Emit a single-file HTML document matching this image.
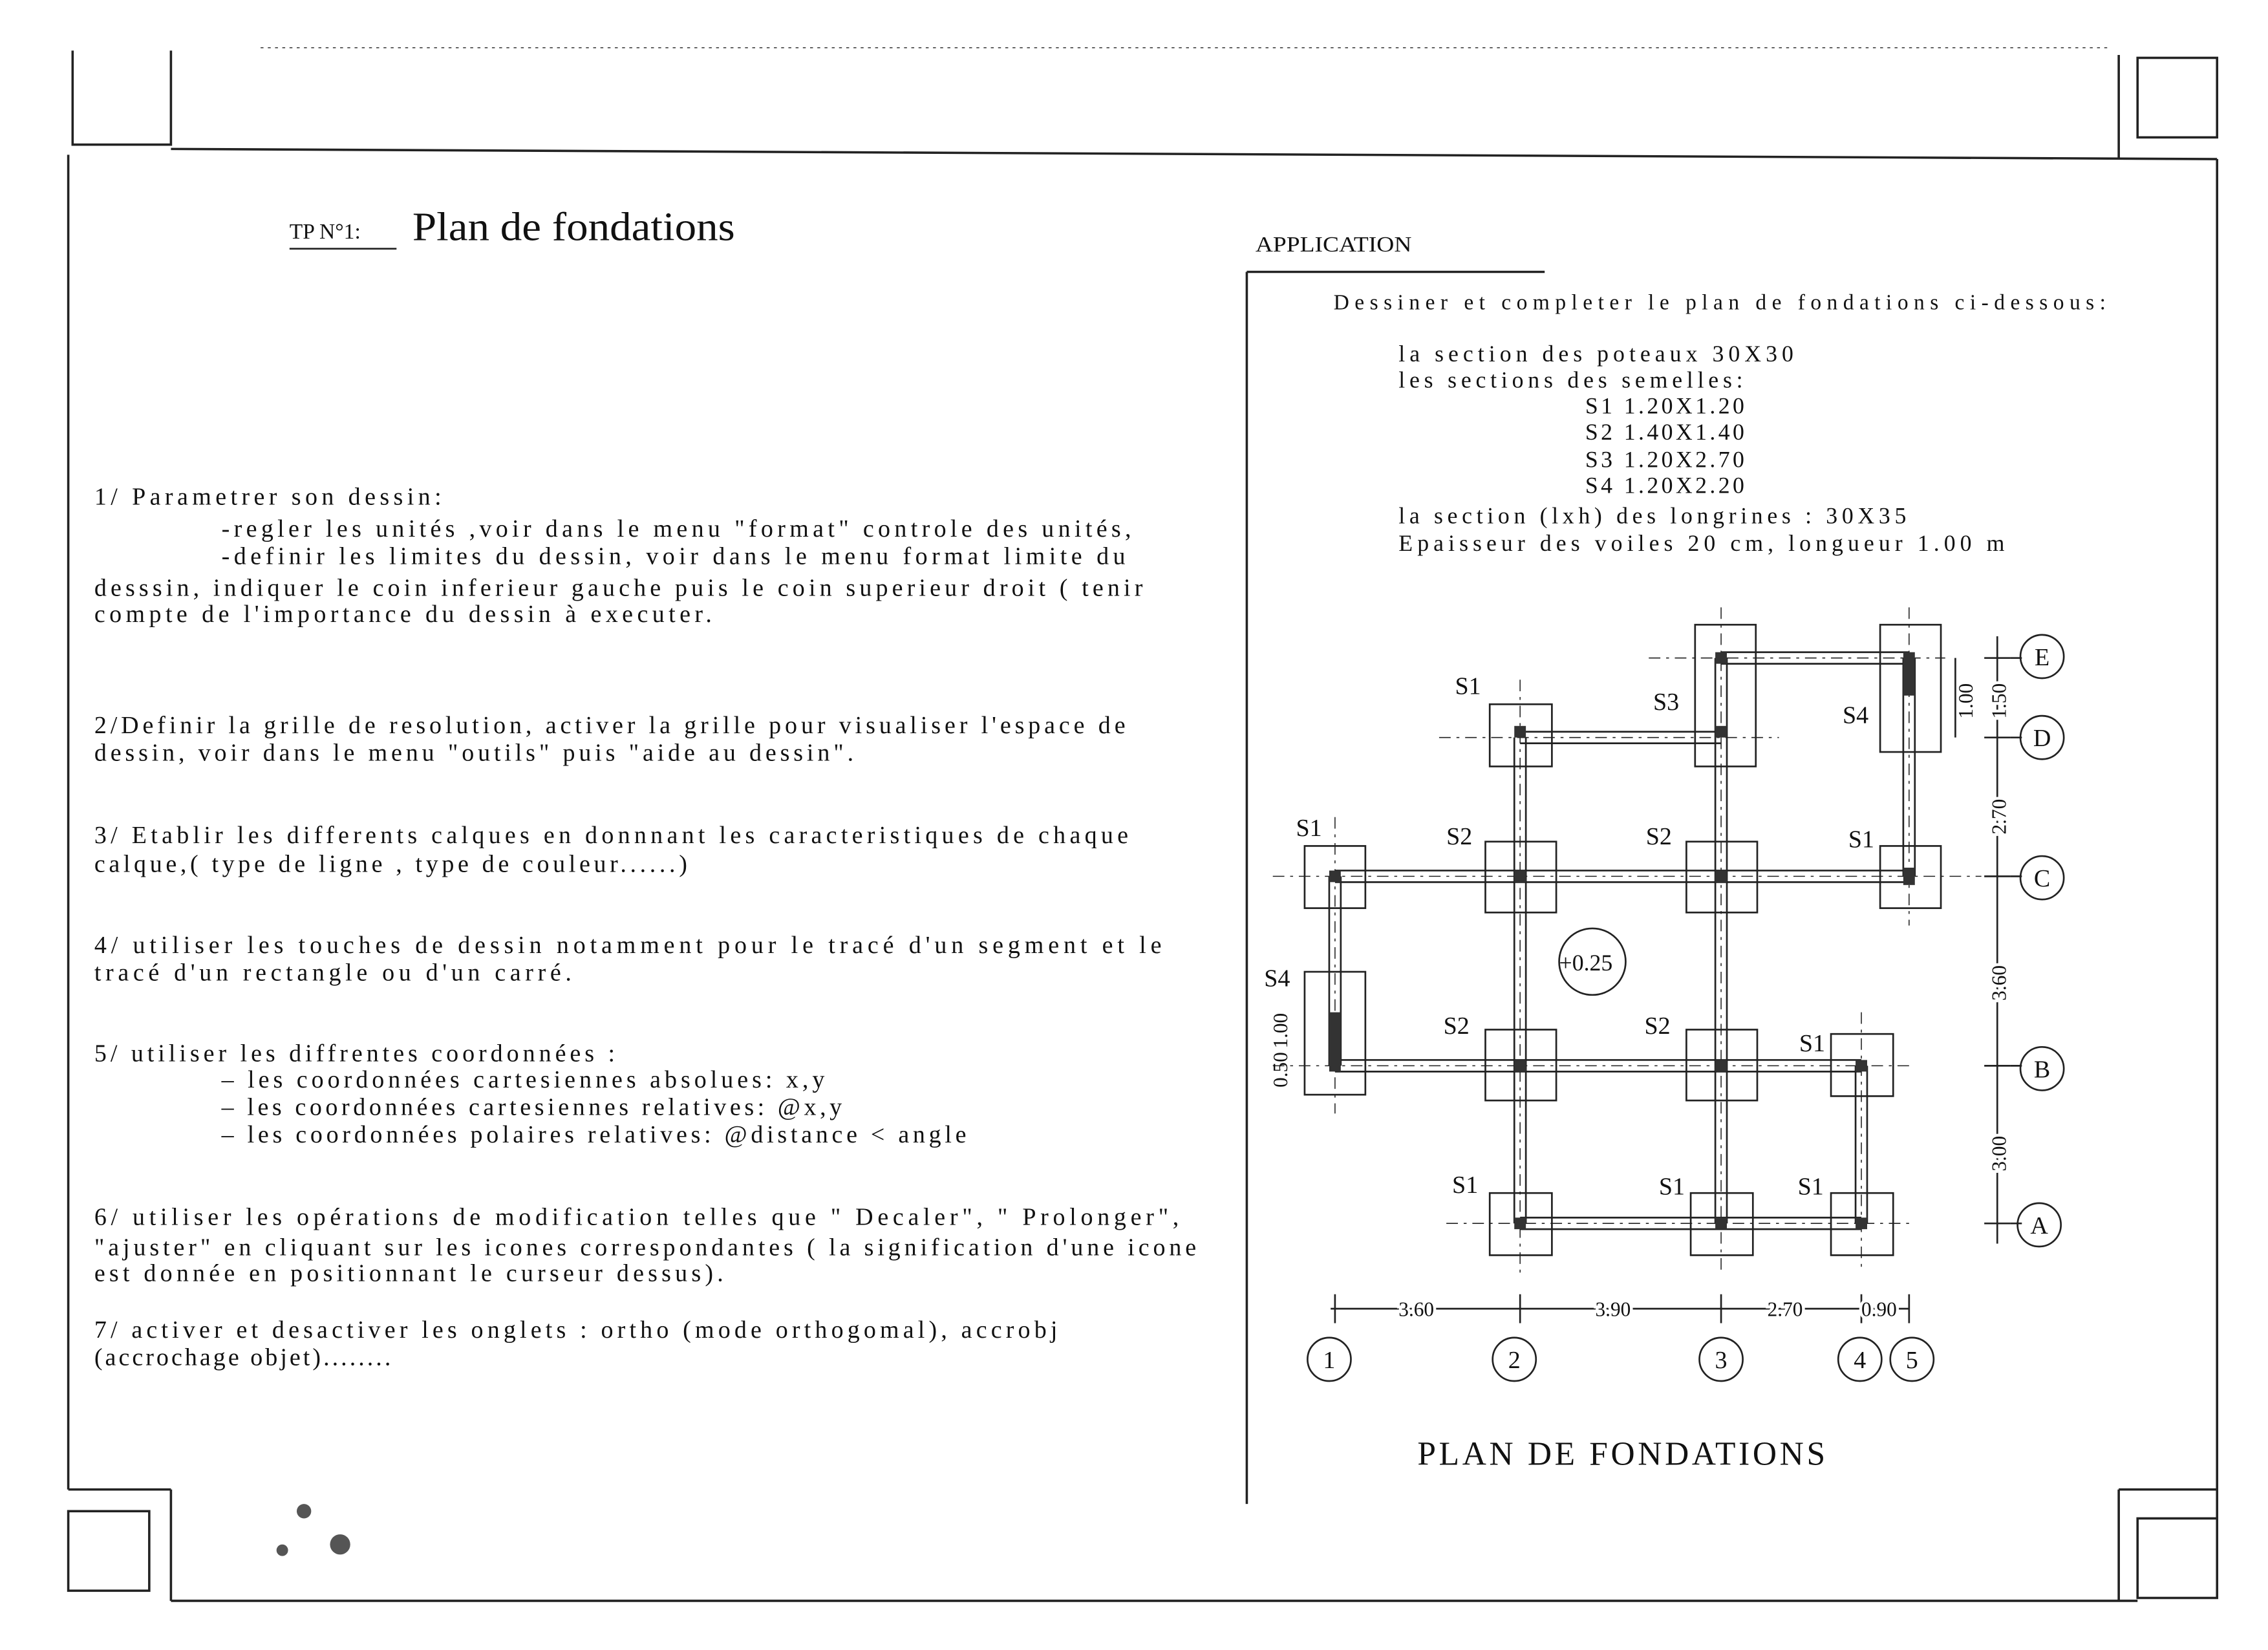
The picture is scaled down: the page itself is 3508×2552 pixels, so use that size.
<!DOCTYPE html>
<html><head><meta charset="utf-8"><style>
html,body{margin:0;padding:0;background:#fff;}
svg{display:block}
text{font-family:"Liberation Serif",serif;fill:#111}
</style></head><body>
<svg width="3508" height="2552" viewBox="0 0 1568 1141" xmlns="http://www.w3.org/2000/svg">
<rect width="1568" height="1141" fill="#fff"/>
<g stroke="#222" stroke-width="1.6" fill="none">
<polyline points="50,35 50,100 118,100 118,35"/>
<rect x="1478" y="40" width="55" height="55"/>
<line x1="1465" y1="38" x2="1465" y2="110"/>
<rect x="47" y="1045" width="56" height="55"/>
<line x1="47" y1="1030" x2="118" y2="1030"/><line x1="118" y1="1030" x2="118" y2="1107"/>
<rect x="1478" y="1050" width="55" height="55"/>
<line x1="1465" y1="1030" x2="1465" y2="1107"/>
<line x1="118" y1="103" x2="1533" y2="110"/>
<line x1="47" y1="107" x2="47" y2="1030"/>
<line x1="1533" y1="110" x2="1533" y2="1050"/>
<line x1="118" y1="1107" x2="1478" y2="1107"/>
<line x1="1465" y1="1030" x2="1533" y2="1030"/>
<line x1="180" y1="33" x2="1460" y2="33" stroke-width="0.6" stroke-dasharray="2 3"/>
<line x1="862" y1="188" x2="862" y2="1040"/>
<line x1="862" y1="188" x2="1068" y2="188"/>
<line x1="200" y1="172" x2="274" y2="172" stroke-width="1.2"/>
</g>
<text x="200" y="165" font-size="15">TP N°1:</text>
<text x="285" y="166" font-size="28" textLength="223" lengthAdjust="spacingAndGlyphs">Plan de fondations</text>
<g font-size="17" lengthAdjust="spacing">
<text x="65" y="349" textLength="240">1/ Parametrer son dessin:</text>
<text x="153" y="371" textLength="629">-regler les unités ,voir dans le menu "format" controle des unités,</text>
<text x="153" y="390" textLength="625">-definir les limites du dessin, voir dans le menu format limite du</text>
<text x="65" y="412" textLength="725">desssin, indiquer le coin inferieur gauche puis le coin superieur droit ( tenir</text>
<text x="65" y="430" textLength="427">compte de l'importance du dessin à executer.</text>
<text x="65" y="507" textLength="713">2/Definir la grille de resolution, activer la grille pour visualiser l'espace de</text>
<text x="65" y="526" textLength="525">dessin, voir dans le menu "outils" puis "aide au dessin".</text>
<text x="65" y="583" textLength="715">3/ Etablir les differents calques en donnnant les caracteristiques de chaque</text>
<text x="65" y="603" textLength="410">calque,( type de ligne , type de couleur......)</text>
<text x="65" y="659" textLength="738">4/ utiliser les touches de dessin notamment pour le tracé d'un segment et le</text>
<text x="65" y="678" textLength="330">tracé d'un rectangle ou d'un carré.</text>
<text x="65" y="734" textLength="360">5/ utiliser les diffrentes coordonnées :</text>
<text x="153" y="752" textLength="417">– les coordonnées cartesiennes absolues: x,y</text>
<text x="153" y="771" textLength="429">– les coordonnées cartesiennes relatives: @x,y</text>
<text x="153" y="790" textLength="515">– les coordonnées polaires relatives: @distance &lt; angle</text>
<text x="65" y="847" textLength="750">6/ utiliser les opérations de modification telles que " Decaler", " Prolonger",</text>
<text x="65" y="868" textLength="762">"ajuster" en cliquant sur les icones correspondantes ( la signification d'une icone</text>
<text x="65" y="886" textLength="435">est donnée en positionnant le curseur dessus).</text>
<text x="65" y="925" textLength="666">7/ activer et desactiver les onglets : ortho (mode orthogomal), accrobj</text>
<text x="65" y="944" textLength="205">(accrochage objet)........</text>
</g>
<text x="868" y="174" font-size="15" textLength="108" lengthAdjust="spacingAndGlyphs">APPLICATION</text>
<g font-size="16" lengthAdjust="spacing">
<text x="922" y="214" font-family="Liberation Sans" font-size="15" textLength="534">Dessiner et completer  le plan de fondations ci-dessous:</text>
<text x="967" y="250" textLength="273">la section des poteaux 30X30</text>
<text x="967" y="268" textLength="238">les sections des semelles:</text>
<text x="1096" y="286" textLength="110">S1 1.20X1.20</text>
<text x="1096" y="304" textLength="110">S2 1.40X1.40</text>
<text x="1096" y="323" textLength="110">S3 1.20X2.70</text>
<text x="1096" y="341" textLength="110">S4 1.20X2.20</text>
<text x="967" y="362" textLength="351">la section (lxh) des longrines : 30X35</text>
<text x="967" y="381" textLength="419">Epaisseur des voiles 20 cm, longueur 1.00 m</text>
</g>
<g stroke="#222" stroke-width="1.2" fill="none">
<rect x="1030" y="487" width="43" height="43"/>
<rect x="1172" y="432" width="42" height="98"/>
<rect x="1300" y="432" width="42" height="88"/>
<rect x="902" y="585" width="42" height="43"/>
<rect x="1027" y="582" width="49" height="49"/>
<rect x="1166" y="582" width="49" height="49"/>
<rect x="1300" y="585" width="42" height="43"/>
<rect x="902" y="672" width="42" height="85"/>
<rect x="1027" y="712" width="49" height="49"/>
<rect x="1166" y="712" width="49" height="49"/>
<rect x="1266" y="715" width="43" height="43"/>
<rect x="1030" y="825" width="43" height="43"/>
<rect x="1169" y="825" width="43" height="43"/>
<rect x="1266" y="825" width="43" height="43"/>
<path d="M1051,506H1190M1051,514H1190"/>
<path d="M1190,451H1320M1190,459H1320"/>
<path d="M923,602H1320M923,610H1320"/>
<path d="M923,733H1287M923,741H1287"/>
<path d="M1051,842H1287M1051,850H1287"/>
<path d="M919,606V737M927,606V737"/>
<path d="M1047,510V846M1055,510V846"/>
<path d="M1186,455V846M1194,455V846"/>
<path d="M1316,455V606M1324,455V606"/>
<path d="M1283,737V846M1291,737V846"/>
<g stroke-width="0.7" stroke-dasharray="8 4 2 4">
<path d="M995,510H1230M1140,455H1345M880,606H1370M880,737H1320M1000,846H1320"/>
<path d="M923,565V770M1051,470V880M1190,420V880M1320,420V640M1287,700V880"/>
</g>
<path d="M1381,440V860M1372,455H1390M1372,510H1390M1372,606H1390M1372,737H1390M1372,846H1390"/>
<path d="M1352,455V510"/>
<path d="M1398,455H1390M1398,510H1390M1398,606H1390M1398,737H1390M1398,846H1390"/>
<path d="M920,905H1320M923,895V915M1051,895V915M1190,895V915M1287,895V915M1320,895V915"/>
<circle cx="1412" cy="454" r="15"/><circle cx="1412" cy="510" r="15"/><circle cx="1412" cy="607" r="15"/><circle cx="1412" cy="739" r="15"/><circle cx="1410" cy="847" r="15"/>
<circle cx="919" cy="940" r="15"/><circle cx="1047" cy="940" r="15"/><circle cx="1190" cy="940" r="15"/><circle cx="1286" cy="940" r="15"/><circle cx="1322" cy="940" r="15"/>
<circle cx="1101" cy="665" r="23"/>
</g>
<g fill="#333">
<rect x="1047" y="502" width="8" height="8"/><rect x="1186" y="502" width="8" height="8"/>
<rect x="1186" y="451" width="8" height="8"/><rect x="1316" y="451" width="8" height="30"/>
<rect x="919" y="602" width="8" height="8"/><rect x="1047" y="602" width="8" height="8"/><rect x="1186" y="602" width="8" height="8"/><rect x="1316" y="600" width="8" height="12"/>
<rect x="919" y="700" width="8" height="41"/><rect x="1047" y="733" width="8" height="8"/><rect x="1186" y="733" width="8" height="8"/><rect x="1283" y="733" width="8" height="8"/>
<rect x="1047" y="842" width="8" height="8"/><rect x="1186" y="842" width="8" height="8"/><rect x="1283" y="842" width="8" height="8"/>
</g>
<g font-size="17">
<text x="1006" y="480">S1</text><text x="1143" y="491">S3</text><text x="1274" y="500">S4</text>
<text x="896" y="578">S1</text><text x="1000" y="584">S2</text><text x="1138" y="584">S2</text><text x="1278" y="586">S1</text>
<text x="874" y="682">S4</text><text x="998" y="715">S2</text><text x="1137" y="715">S2</text><text x="1244" y="727">S1</text>
<text x="1004" y="825">S1</text><text x="1147" y="826">S1</text><text x="1243" y="826">S1</text>
<text x="1078" y="671" font-size="16">+0.25</text>
<text x="1412" y="460" font-size="17" text-anchor="middle">E</text><text x="1412" y="516" font-size="17" text-anchor="middle">D</text><text x="1412" y="613" font-size="17" text-anchor="middle">C</text><text x="1412" y="745" font-size="17" text-anchor="middle">B</text><text x="1410" y="853" font-size="17" text-anchor="middle">A</text>
<text x="919" y="946" font-size="17" text-anchor="middle">1</text><text x="1047" y="946" font-size="17" text-anchor="middle">2</text><text x="1190" y="946" font-size="17" text-anchor="middle">3</text><text x="1286" y="946" font-size="17" text-anchor="middle">4</text><text x="1322" y="946" font-size="17" text-anchor="middle">5</text>
</g>
<g font-family="Liberation Sans" font-size="14">
<text x="967" y="910" stroke="#fff" stroke-width="4" style="paint-order:stroke">3.60</text>
<text x="1103" y="910" stroke="#fff" stroke-width="4" style="paint-order:stroke">3.90</text>
<text x="1222" y="910" stroke="#fff" stroke-width="4" style="paint-order:stroke">2.70</text>
<text x="1287" y="910" stroke="#fff" stroke-width="4" style="paint-order:stroke">0.90</text>
<text transform="translate(1387,497) rotate(-90)" stroke="#fff" stroke-width="4" style="paint-order:stroke">1.50</text>
<text transform="translate(1364,497) rotate(-90)">1.00</text>
<text transform="translate(1387,577) rotate(-90)" stroke="#fff" stroke-width="4" style="paint-order:stroke">2.70</text>
<text transform="translate(1387,692) rotate(-90)" stroke="#fff" stroke-width="4" style="paint-order:stroke">3.60</text>
<text transform="translate(1387,810) rotate(-90)" stroke="#fff" stroke-width="4" style="paint-order:stroke">3.00</text>
<text transform="translate(890,725) rotate(-90)">1.00</text>
<text transform="translate(890,752) rotate(-90)">0.50</text>
</g>
<text x="980" y="1013" font-size="23" textLength="282" lengthAdjust="spacing">PLAN DE FONDATIONS</text>
<g fill="#555"><circle cx="210" cy="1045" r="5"/><circle cx="235" cy="1068" r="7"/><circle cx="195" cy="1072" r="4"/></g>
</svg>
</body></html>
